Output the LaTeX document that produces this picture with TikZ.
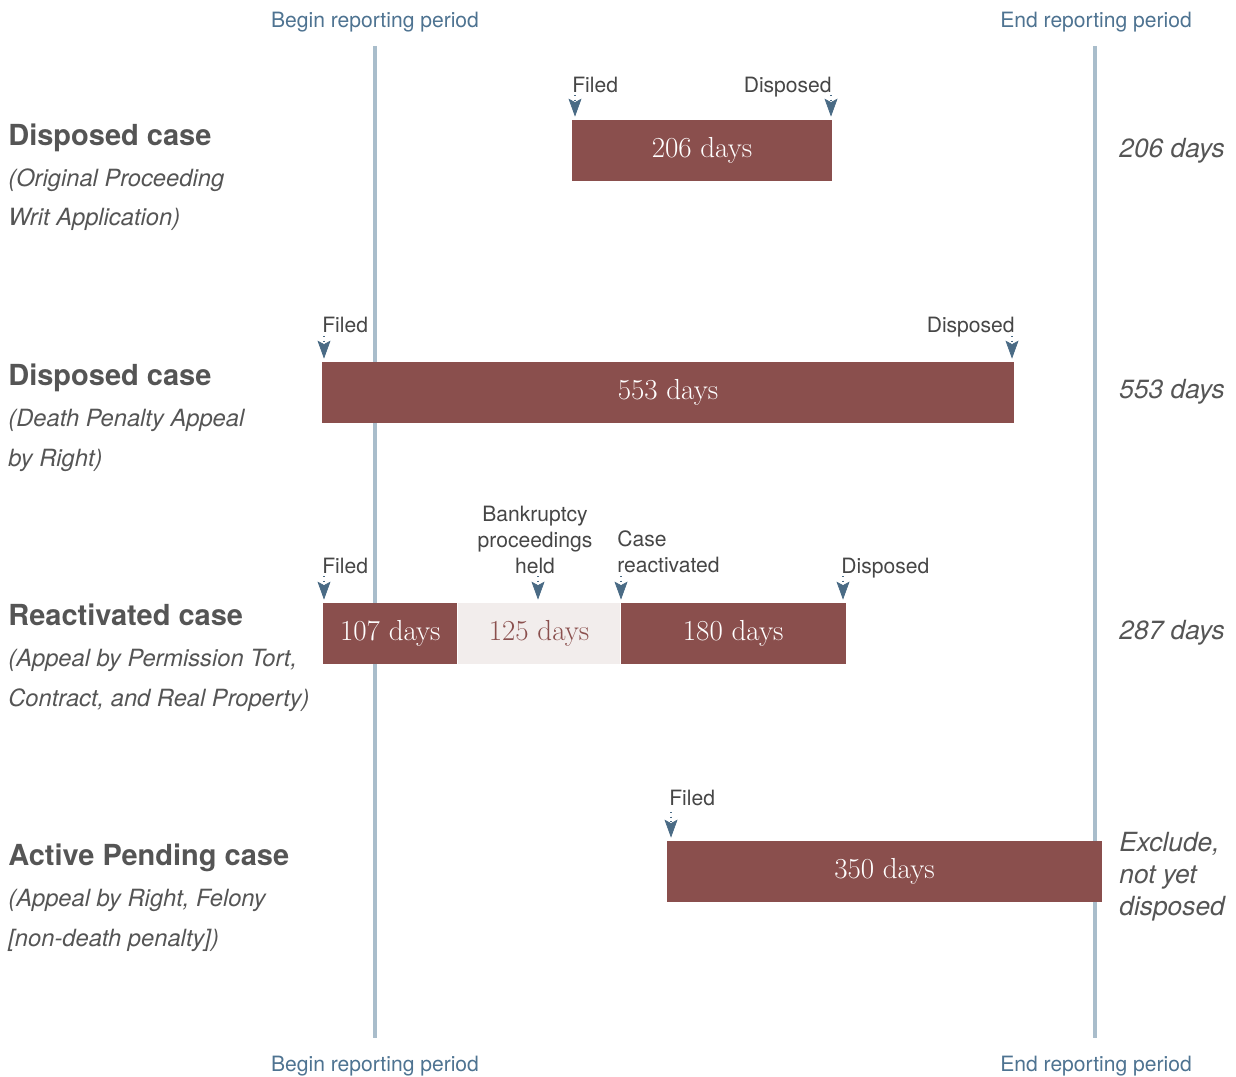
\documentclass[tikz,border=0pt]{standalone}
\usepackage{fontspec}
\setsansfont{TeX Gyre Heros}
\usepackage{xcolor}
\definecolor{casered}{RGB}{138, 79, 77}
\definecolor{pausefill}{RGB}{242, 237, 236}
\definecolor{periodline}{RGB}{169, 189, 203}
\definecolor{periodtext}{RGB}{78, 115, 145}
\definecolor{markerblue}{RGB}{74, 107, 133}
\definecolor{titlegray}{RGB}{85, 85, 85}
\definecolor{labelgray}{RGB}{70, 70, 70}
\usetikzlibrary{arrows.meta,positioning}

\begin{document}
\begin{tikzpicture}[x=0.02cm, y=-0.02cm, every node/.style={inner sep=0pt},
    period/.style={line width=2.8pt, draw=periodline},
    periodlabel/.style={font=\sffamily\fontsize{12}{14}\selectfont, text=periodtext, anchor=base},
    bar/.style={fill=casered, minimum height=1.22cm, text=white, font=\fontsize{16.5}{18}\selectfont},
    pausebar/.style={bar, fill=pausefill, text=casered},
    event/.style={font=\sffamily\fontsize{12}{14.7}\selectfont, text=labelgray},
    marker/.style={dotted, draw=markerblue, semithick, shorten >=0.06cm,
        -{Stealth[length=0.36cm, width=0.26cm, inset=0.07cm, fill=markerblue, line width=0.4pt]}},
    casetitle/.style={font=\sffamily\bfseries\fontsize{16.5}{20}\selectfont, text=titlegray, anchor=base west},
    casetype/.style={font=\sffamily\itshape\fontsize{13.5}{22.7}\selectfont, text=titlegray, anchor=base west, align=left},
    total/.style={font=\sffamily\itshape\fontsize{15}{18.1}\selectfont, text=titlegray, anchor=base west, align=left}]
    \useasboundingbox (0,0) rectangle (1236,1077);

    % Reporting period
    \coordinate (beginTop) at (375,46);
    \coordinate (beginBot) at (375,1038);
    \coordinate (endTop) at (1095,46);
    \coordinate (endBot) at (1095,1038);
    \draw[period] (beginTop) -- (beginBot);
    \draw[period] (endTop) -- (endBot);
    \node[periodlabel] (beginA) at (375,27.5) {Begin reporting period};
    \node[periodlabel] (endA) at (1096,27.5) {End reporting period};
    \node[periodlabel] (beginB) at (375,1071) {Begin reporting period};
    \node[periodlabel] (endB) at (1096,1071) {End reporting period};

    % Original proceeding
    \node[casetitle] (titleA) at (8,145.5) {Disposed case};
    \node[casetype] (typeA) at (8,226) {(Original Proceeding\\Writ Application)};
    \node[bar, minimum width=5.2cm] (barA) at (702,150.5) {206 days};
    \node[event, anchor=base west] (filedA) at (572,93) {Filed};
    \node[event, anchor=base east] (disposedA) at (832,93) {Disposed};
    \coordinate (mFiledA) at (575,95);
    \coordinate (mDisposedA) at (831,95);
    \draw[marker] (mFiledA) -- (mFiledA |- barA.north);
    \draw[marker] (mDisposedA) -- (mDisposedA |- barA.north);
    \node[total] (totalA) at (1119,157.5) {206 days};

    % Death penalty appeal
    \node[casetitle] (titleB) at (8,385.5) {Disposed case};
    \node[casetype] (typeB) at (8,466) {(Death Penalty Appeal\\by Right)};
    \node[bar, minimum width=13.84cm] (barB) at (668,392.5) {553 days};
    \node[event, anchor=base west] (filedB) at (322,333) {Filed};
    \node[event, anchor=base east] (disposedB) at (1015,333) {Disposed};
    \coordinate (mFiledB) at (324,336);
    \coordinate (mDisposedB) at (1012,336);
    \draw[marker] (mFiledB) -- (mFiledB |- barB.north);
    \draw[marker] (mDisposedB) -- (mDisposedB |- barB.north);
    \node[total] (totalB) at (1119,398.5) {553 days};

    % Reactivated
    \node[casetitle] (titleC) at (8,625.5) {Reactivated case};
    \node[casetype] (typeC) at (8,706) {(Appeal by Permission Tort,\\Contract, and Real Property)};
    \node[bar, minimum width=2.68cm, anchor=west] (barC1) at (323,633.5) {107 days};
    \node[pausebar, minimum width=3.24cm, right=0pt of barC1] (barC2) {125 days};
    \node[bar, minimum width=4.5cm, right=0pt of barC2] (barC3) {180 days};
    \node[event, anchor=base west] (filedC) at (322,573) {Filed};
    \node[event, anchor=base, align=center] (pauseC) at (535,573) {Bankruptcy\\proceedings\\held};
    \node[event, anchor=base west, align=left] (resumeC) at (617,572) {Case\\reactivated};
    \node[event, anchor=base west] (disposedC) at (841,573) {Disposed};
    \coordinate (mFiledC) at (324,576);
    \coordinate (mPauseC) at (538,576);
    \coordinate (mResumeC) at (621,576);
    \coordinate (mDisposedC) at (843,576);
    \draw[marker] (mFiledC) -- (mFiledC |- barC1.north);
    \draw[marker] (mPauseC) -- (mPauseC |- barC2.north);
    \draw[marker] (mResumeC) -- (mResumeC |- barC3.north);
    \draw[marker] (mDisposedC) -- (mDisposedC |- barC3.north);
    \node[total] (totalC) at (1119,639.5) {287 days};

    % Active pending
    \node[casetitle] (titleD) at (8,865.5) {Active Pending case};
    \node[casetype] (typeD) at (8,946) {(Appeal by Right, Felony\\{}[non-death penalty])};
    \node[bar, minimum width=8.7cm] (barD) at (884.5,871.5) {350 days};
    \node[event, anchor=base west] (filedD) at (669,805) {Filed};
    \coordinate (mFiledD) at (671,812);
    \draw[marker] (mFiledD) -- (mFiledD |- barD.north);
    \node[total] (totalD) at (1119,915.5) {Exclude,\\not yet\\disposed};
\end{tikzpicture}
\end{document}
